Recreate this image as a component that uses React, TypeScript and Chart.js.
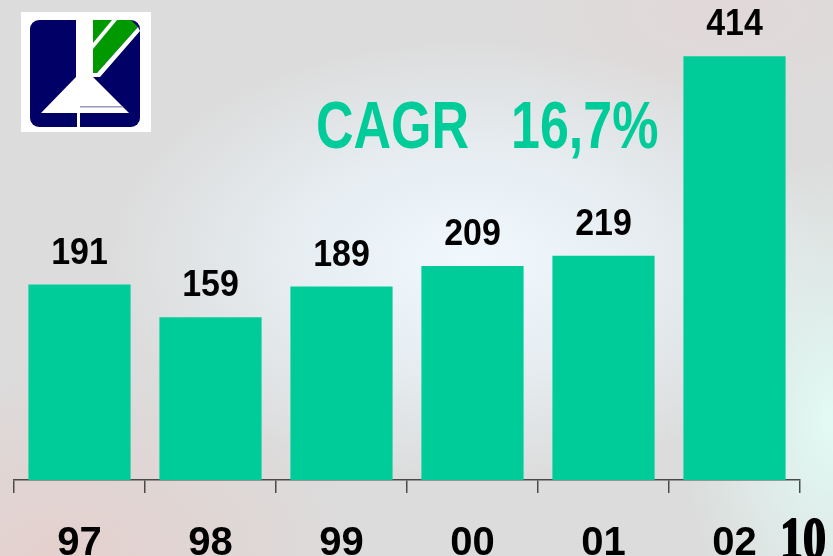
import React, { useEffect, useRef } from "react";
import { Chart, registerables } from "chart.js";

Chart.register(...registerables);

const categories = ["97", "98", "99", "00", "01", "02"];
const values = [191, 159, 189, 209, 219, 414];
const cagrLabel = "CAGR";
const cagrValue = "16,7%";
const pageNumber = "10";

const BAR_COLOR = "#00CC99";
const SANS = '"Liberation Sans", Arial, sans-serif';
const SERIF = '"Liberation Serif", "Times New Roman", serif';

const overlayPlugin = {
  id: "overlay",
  afterDatasetsDraw(chart: any) {
    const ctx = chart.ctx;
    const meta = chart.getDatasetMeta(0);
    ctx.save();
    ctx.fillStyle = "#000";
    ctx.font = `bold 35px ${SANS}`;
    ctx.textAlign = "center";
    ctx.textBaseline = "alphabetic";
    meta.data.forEach((bar: any, i: number) => {
      ctx.save();
      ctx.translate(bar.x, bar.y - 21);
      ctx.scale(0.97, 1.06);
      ctx.fillText(String(values[i]), 0, 0);
      ctx.restore();
    });
    ctx.restore();

    // CAGR text (tall, condensed look)
    ctx.save();
    ctx.fillStyle = BAR_COLOR;
    ctx.font = `bold 52px ${SANS}`;
    ctx.textAlign = "left";
    ctx.textBaseline = "alphabetic";
    ctx.translate(316, 148);
    ctx.scale(1, 1.3);
    ctx.fillText(cagrLabel, 0, 0);
    ctx.fillText(cagrValue, 195, 0);
    ctx.restore();

    // page number
    ctx.save();
    ctx.fillStyle = "#000";
    ctx.strokeStyle = "#000";
    ctx.lineWidth = 1.6;
    ctx.lineJoin = "round";
    ctx.font = `bold 46px ${SERIF}`;
    ctx.textAlign = "left";
    ctx.textBaseline = "alphabetic";
    ctx.translate(780, 558);
    ctx.scale(1, 1.3);
    ctx.fillText(pageNumber, 0, 0);
    ctx.strokeText(pageNumber, 0, 0);
    ctx.restore();
  },
};

function Logo() {
  return (
    <svg
      width={130}
      height={120}
      viewBox="21 12 130 120"
      style={{ position: "absolute", left: 21, top: 12 }}
    >
      <rect x={21} y={12} width={130} height={120} fill="#ffffff" />
      <rect x={30} y={20} width={110} height={107} rx={9} fill="#000066" />
      {/* white gap between left block and right part */}
      <rect x={76} y={20} width={17} height={60} fill="#ffffff" />
      {/* green top-right shape */}
      <polygon points="93,20 131,20 138,27 97,73 93,73" fill="#009900" />
      {/* white stripe across green */}
      <polygon points="93,43 112,20 117,20 93,49" fill="#ffffff" />
      {/* white stripe between green and navy */}
      <polygon points="97,73 138,27 140,31 100,77 93,77 93,73" fill="#ffffff" />
      {/* white trapezoid */}
      <polygon points="76,77 93,77 129,113 41,113" fill="#ffffff" />
      {/* thin vertical line in bottom strip */}
      <rect x={77} y={113} width={3} height={14} fill="#ffffff" />
      <rect x={80} y={106} width={43} height={1.5} fill="#9999bb" />
    </svg>
  );
}

export default function App() {
  const canvasRef = useRef<HTMLCanvasElement | null>(null);

  useEffect(() => {
    if (!canvasRef.current) return;
    const chart = new Chart(canvasRef.current, {
      type: "bar",
      data: {
        labels: categories,
        datasets: [
          {
            data: values,
            backgroundColor: BAR_COLOR,
            borderWidth: 0,
            categoryPercentage: 1,
            barPercentage: 0.78,
          },
        ],
      },
      options: {
        animation: false,
        responsive: false,
        maintainAspectRatio: false,
        layout: { padding: { left: 14, right: 33, top: 0, bottom: 0 } },
        plugins: {
          legend: { display: false },
          tooltip: { enabled: false },
          title: { display: false },
        },
        scales: {
          x: {
            offset: true,
            grid: {
              offset: true,
              drawOnChartArea: false,
              drawTicks: true,
              tickLength: 13,
              color: "#4a4a4a",
              lineWidth: 1.5,
            },
            border: { display: true, color: "#4a4a4a", width: 1.5 },
            ticks: {
              color: "#000",
              font: { family: SANS, size: 40, weight: "bold" },
              padding: 27,
              maxRotation: 0,
              autoSkip: false,
            },
            afterFit: (s: any) => {
              s.height = 76;
            },
          },
          y: { display: false, min: 0, max: 469 },
        },
      },
      plugins: [overlayPlugin],
    } as any);
    return () => chart.destroy();
  }, []);

  const bg = [
    "radial-gradient(ellipse 360px 220px at 470px 260px, rgba(242,250,255,0.95) 0%, rgba(236,246,252,0.7) 45%, rgba(236,246,252,0) 100%)",
    "radial-gradient(ellipse 150px 260px at 833px 420px, rgba(226,252,246,0.95) 0%, rgba(226,252,246,0) 100%)",
    "radial-gradient(ellipse 300px 190px at 60px 556px, rgba(236,196,190,0.5) 0%, rgba(236,196,190,0) 100%)",
    "radial-gradient(ellipse 240px 110px at 720px 15px, rgba(232,212,212,0.45) 0%, rgba(232,212,212,0) 100%)",
    "linear-gradient(#dcdcdc, #dcdcdc)",
  ].join(", ");

  return (
    <div
      style={{
        position: "fixed",
        left: 0,
        top: 0,
        width: 833,
        height: 556,
        overflow: "hidden",
        background: bg,
      }}
    >
      <Logo />
      <canvas
        ref={canvasRef}
        width={833}
        height={556}
        style={{ position: "absolute", left: 0, top: 0, width: 833, height: 556 }}
      />
    </div>
  );
}
